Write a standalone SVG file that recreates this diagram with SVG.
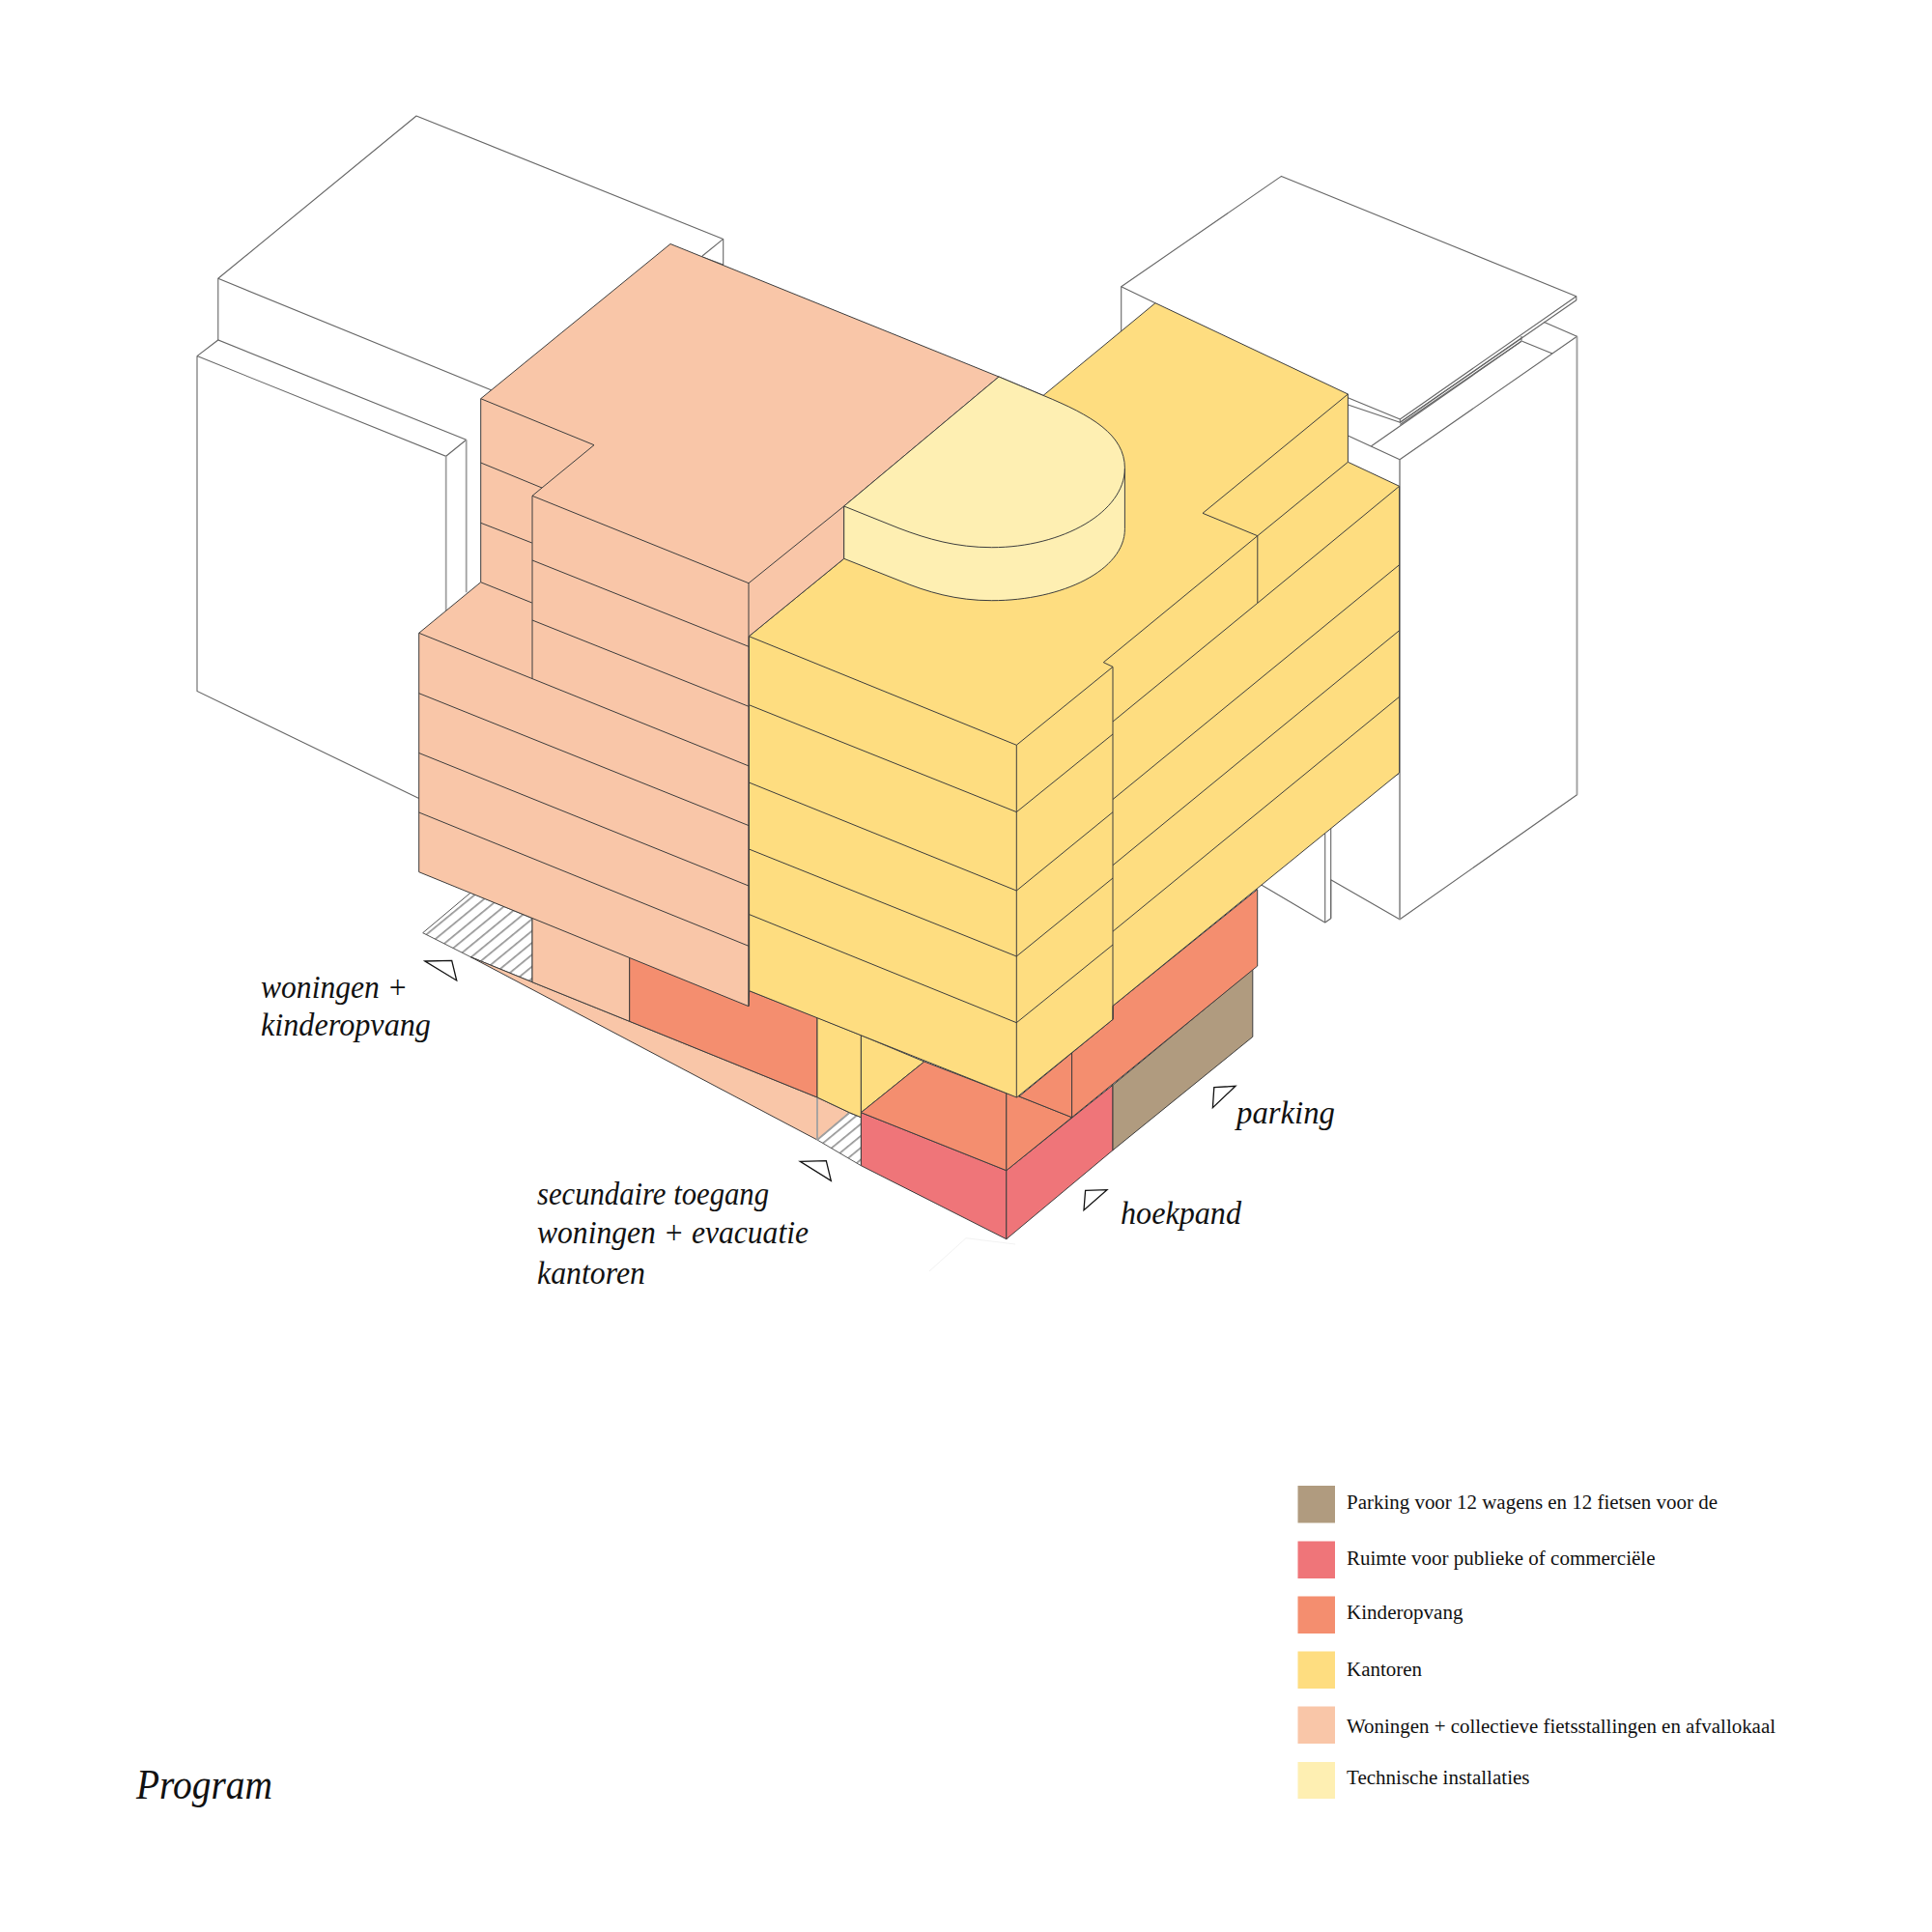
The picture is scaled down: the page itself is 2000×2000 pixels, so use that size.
<svg xmlns="http://www.w3.org/2000/svg" width="2000" height="2000" viewBox="0 0 2000 2000">
<style>
.b{fill:#fff;stroke:#666;stroke-width:1.1;stroke-linejoin:round}
.n{fill:none;stroke:#666;stroke-width:1.1}
.g{fill:none;stroke:#a0a0a0;stroke-width:1.8}
.l{fill:none;stroke:#3d3d3d;stroke-width:1;stroke-linejoin:round}
.p{stroke:#3d3d3d;stroke-width:1;stroke-linejoin:round}
.brown{fill:#b09b7f}.pink{fill:#ef7579}.dark{fill:#f48e6f}.yel{fill:#fedd80}.ora{fill:#f9c6a8}.cream{fill:#feefb2}
.tri{fill:#fff;stroke:#111;stroke-width:1.3;stroke-linejoin:miter}
.lab{font-family:"Liberation Serif",serif;font-style:italic;font-size:34px;fill:#111}
.leg{font-family:"Liberation Serif",serif;font-size:20.5px;fill:#111}
</style>
<defs>
<pattern id="hatch" width="20" height="9.5" patternUnits="userSpaceOnUse" patternTransform="translate(437 965) rotate(-39.4)">
<rect width="20" height="9.5" fill="#fff"/>
<line x1="0" y1="4.700" x2="20" y2="4.700" stroke="#333" stroke-width="0.9"/>
</pattern>
</defs>
<rect width="2000" height="2000" fill="#fff"/>

<g id="neighbour-left">
<path class="b" d="M225.800 288.300L431 120L748.700 247.400L748.700 274L727 266L600 420L509 404Z"/>
<path class="n" d="M225.800 288.300V352"/>
<path class="n" d="M204 368.600L225.800 352L482.700 455.300M204 368.600L461.700 472.300L482.700 455.300M204 368.600V715.500L433.700 826.500"/>
<path class="g" d="M461.700 472.300V632.700M482.700 455.300V613.300"/>
<path class="n" d="M748.700 247.400L727 265"/>
</g>

<g id="neighbour-right">
<path class="b" d="M1160.700 296.700L1326.500 182.400L1631.800 306.700L1631.800 310.700L1449.300 437.300L1449.300 434L1395.400 411.700L1196 345H1160.700Z"/>
<path class="n" d="M1160.700 296.700L1196 313.700M1395.400 419L1449.300 437.300M1449.300 434L1631.800 306.700M1449.300 437.300L1575 350M1449.300 439.500L1575 353.300V348"/>
<path class="b" d="M1449 475.700L1632.500 348.300V822.700L1449 951.700Z"/>
<path class="n" d="M1395.400 451L1449 475.700M1419.600 461.700L1575 353.300M1575.700 353.300L1607 366M1598 333.300L1632.500 348.300"/>
<path class="b" d="M1305.700 916L1371.700 955L1377.700 950.700V910.700L1449 951.700V800L1300 900Z"/>
<path class="n" d="M1371.700 863V955M1377.700 857V950.700"/>
<path class="g" d="M1449 475.700V951.700M1632.500 348.300V822.700"/>
</g>

<g id="base">
<path d="M437.700 965.700L487.300 924L551 950.700V1016.700L487.300 990.700Z" fill="url(#hatch)" stroke="#555" stroke-width="1"/>
<path d="M846 1180L879.300 1152L891.400 1156.700V1206.700Z" fill="url(#hatch)" stroke="#555" stroke-width="1"/>
<path class="p ora" d="M487.300 990.700L551 1016.700L651.700 1057.300L846 1136L879.300 1151.700L846 1180Z"/>
<path class="g" d="M846 1136V1180M846 1180L879.300 1152"/>
<path class="p ora" d="M551 950L651.700 990V1057.300L551 1016.700Z"/>
<path class="p dark" d="M651.700 990L775 1041L775.700 1025.700L846 1053.300V1136L651.700 1057.300Z"/>
<path class="p yel" d="M846 1053.300L891.400 1071.700V1156.700L879.300 1151.700L846 1136Z"/>
<path class="p yel" d="M891.400 1071.700L956.800 1099L891.400 1151.700Z"/>
<path class="p pink" d="M891.400 1151.700L1041.800 1211.700V1282.700L891.400 1206.700Z"/>
<path class="p pink" d="M1041.800 1211.700L1152 1123.300V1190.700L1041.800 1282.700Z"/>
<path class="p brown" d="M1152 1123.300L1296.800 1003.300V1073.300L1152 1190.700Z"/>
<path class="p dark" d="M891.400 1151.700L956.800 1099L1041.800 1131.700V1211.700Z"/>
<path class="p dark" d="M1041.800 1131.700L1055 1135L1109.600 1156.700L1041.800 1211.700Z"/>
<path class="p dark" d="M1055 1135L1109.600 1090V1156.700Z"/>
<path class="p dark" d="M1109.600 1090L1152 1055.300V1041.300L1301.700 920.700V1000L1109.600 1156.700Z"/>
<path d="M962 1316L1000 1281.700L1051 1288" fill="none" stroke="#f2f2f2" stroke-width="1"/>
</g>

<g id="kantoren">
<path class="p yel" d="M775.300 658.700L873.700 578.300L873.700 524L1034 390L1080 409.400L1196 313.700L1395.400 408V478.300L1448.600 503.300V800L1152 1041.300V1055.300L1052.500 1136L775.700 1025.700Z"/>
<path class="l" d="M775.300 658.700L1052.300 771.300L1152 690.300L1142.300 685.700L1301.800 554.700L1245 531.300L1395.400 408M1395.400 478.300L1301.800 554.700V624.300M1448.600 503.300L1301.800 624.300L1152 747M1152 690.300V1055.300M1052.300 771.300V1136"/>
<path class="l" d="M775.300 729.700L1052.300 840.600L1152 760M775.300 810L1052.300 922L1152 840.700M775.300 879L1052.300 990L1152 909M775.300 946.500L1052.300 1058.700L1152 978"/>
<path class="l" d="M1448.600 584.700L1152 827.500M1448.600 652.700L1152 895.700M1448.600 721.300L1152 964.200"/>
</g>

<g id="woningen">
<path class="p ora" d="M433.700 655.300L497.700 602.700V412.700L694 252.500L1034 390L873.700 524V578.300L775.300 658.700L775 1041.700L433.700 902.700Z"/>
<path class="l" d="M497.700 412.700L615 460.700L561 505L551 513.300L775 603.700L873.700 524M775 603.700V1041.700M551 513.300V702.700M497.700 479L561 505M497.700 541.300L550.700 562M497.700 602.700L550.700 624"/>
<path class="l" d="M433.700 655.300L775 792.900M551 580L775 669.300M551 642L775 731.300M433.700 717.700L775 854.600M433.700 779.500L775 917M433.700 841L775 979.300"/>
</g>

<g id="technische-installaties">
<path class="p cream" d="M873.700 524L1034 390L1080 409.400C1130 430 1164.400 450 1164.400 484.700V547.700C1164.400 590 1100 621.700 1026.700 621.700C990 621.700 960 613 931 601L873.700 578.300Z"/>
<path class="l" d="M873.700 524L931 547C960 558 990 566.700 1026.700 566.700C1100 566.700 1164.400 530 1164.400 484.700"/>
</g>

<g id="markers">
<path class="tri" d="M440 995L467.700 994.300L472.700 1015Z"/>
<path class="tri" d="M828.300 1202.300L855.300 1201.700L860.300 1222.300Z"/>
<path class="tri" d="M1123.600 1232.300L1146 1231.700L1122 1252.700Z"/>
<path class="tri" d="M1256.800 1125.700L1279 1124.300L1255.400 1146.700Z"/>
</g>

<g id="labels">
<text class="lab" x="270" y="1033" textLength="152" lengthAdjust="spacingAndGlyphs">woningen +</text>
<text class="lab" x="270" y="1072" textLength="176" lengthAdjust="spacingAndGlyphs">kinderopvang</text>
<text class="lab" x="556" y="1246.500" textLength="240" lengthAdjust="spacingAndGlyphs">secundaire toegang</text>
<text class="lab" x="556" y="1287" textLength="281" lengthAdjust="spacingAndGlyphs">woningen + evacuatie</text>
<text class="lab" x="556" y="1329" textLength="112" lengthAdjust="spacingAndGlyphs">kantoren</text>
<text class="lab" x="1160" y="1267" textLength="125" lengthAdjust="spacingAndGlyphs">hoekpand</text>
<text class="lab" x="1280" y="1163" textLength="102" lengthAdjust="spacingAndGlyphs">parking</text>
<text class="lab" x="141" y="1862" style="font-size:44px" textLength="141" lengthAdjust="spacingAndGlyphs">Program</text>
</g>

<g id="legend">
<rect class="brown" x="1343.500" y="1538" width="38.500" height="38.500"/>
<rect class="pink" x="1343.500" y="1595.500" width="38.500" height="38.500"/>
<rect class="dark" x="1343.500" y="1652.500" width="38.500" height="38.500"/>
<rect class="yel" x="1343.500" y="1709.500" width="38.500" height="38.500"/>
<rect class="ora" x="1343.500" y="1766.500" width="38.500" height="38.500"/>
<rect class="cream" x="1343.500" y="1824" width="38.500" height="38"/>
<text class="leg" x="1394" y="1561.500" textLength="384" lengthAdjust="spacingAndGlyphs">Parking voor 12 wagens en 12 fietsen voor de</text>
<text class="leg" x="1394" y="1620" textLength="319.500" lengthAdjust="spacingAndGlyphs">Ruimte voor publieke of commerciële</text>
<text class="leg" x="1394" y="1675.500" textLength="120.500" lengthAdjust="spacingAndGlyphs">Kinderopvang</text>
<text class="leg" x="1394" y="1735" textLength="78" lengthAdjust="spacingAndGlyphs">Kantoren</text>
<text class="leg" x="1394" y="1793.500" textLength="444" lengthAdjust="spacingAndGlyphs">Woningen + collectieve fietsstallingen en afvallokaal</text>
<text class="leg" x="1394" y="1846.500" textLength="189.500" lengthAdjust="spacingAndGlyphs">Technische installaties</text>
</g>
</svg>
